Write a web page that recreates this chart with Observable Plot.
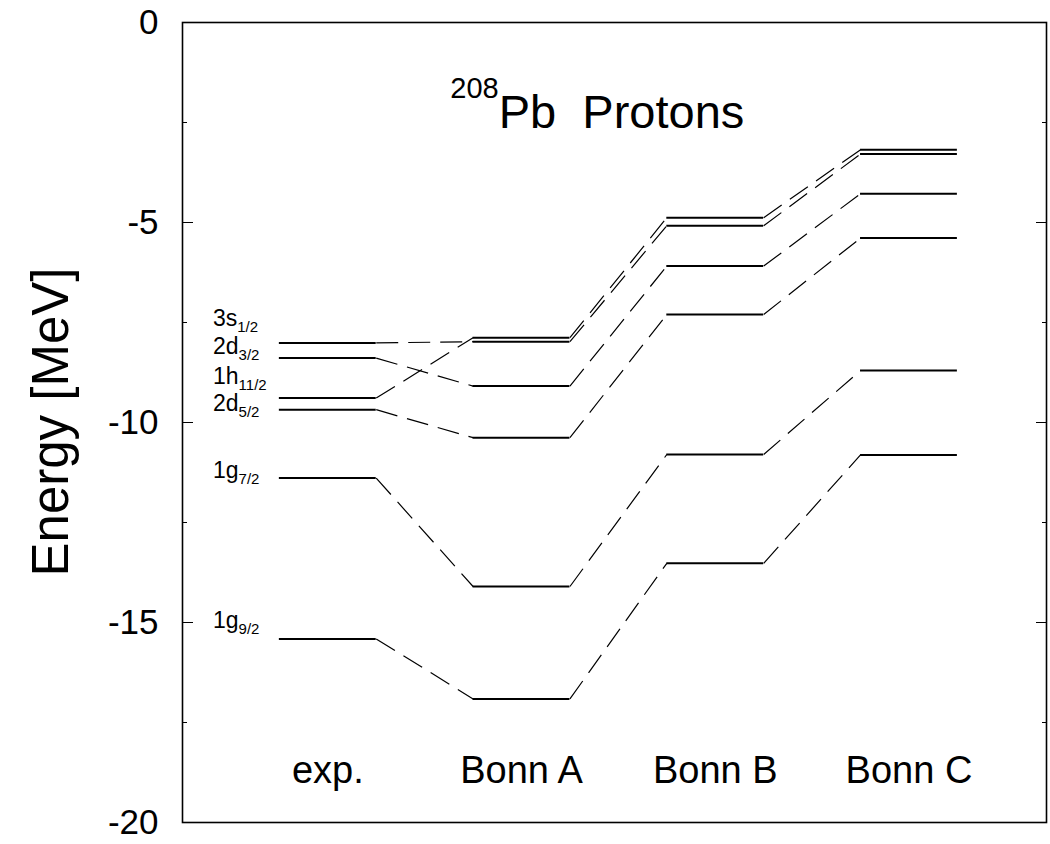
<!DOCTYPE html>
<html><head><meta charset="utf-8">
<script src="https://cdn.jsdelivr.net/npm/d3@7"></script>
<script src="https://cdn.jsdelivr.net/npm/@observablehq/plot@0.6"></script>
<style>body{margin:0;background:#fff} svg{font-family:"Liberation Sans",Arial,sans-serif}</style>
</head><body><div id="chart"></div>
<script>
// Columns (models) and single-particle states
const columns = ["exp.", "Bonn A", "Bonn B", "Bonn C"];
const stateMain = ["1g", "1g", "2d", "1h", "2d", "3s"];
const stateSub  = ["9/2", "7/2", "5/2", "11/2", "3/2", "1/2"];
// Energies [MeV] for states in the order above
const expE  = [-15.41, -11.39, -9.68, -9.39, -8.39, -8.01];
const bonnA = [-16.91, -14.10, -10.38, -7.88, -9.09, -7.98];
const bonnB = [-13.52, -10.80, -7.30, -4.88, -6.09, -5.08];
const bonnC = [-10.81, -8.70, -5.39, -3.18, -4.28, -3.29];
// Label anchors (energy) for the state names
const labelE = [-14.95, -11.2, -9.52, -8.85, -8.1, -7.4];
const labelX = 0.32;
const columnLabelE = -18.7;
const yTicks = [0, -5, -10, -15, -20];
const yMinor = [-2.5, -7.5, -12.5, -17.5];
const titleIso = "208";
const titleText = "Pb  Protons";
const titleX = 2.77, titleE = -2.65;
const yTitle = "Energy [MeV]";

const series = [expE, bonnA, bonnB, bonnC];
const levels = [];
series.forEach((s, c) => s.forEach((e, k) => levels.push({col: c, state: k, e})));
const links = [];
for (let c = 0; c < series.length - 1; c++) {
  series[c].forEach((e, k) => links.push({x1: 2 * c + 2, y1: e, x2: 2 * c + 3, y2: series[c + 1][k]}));
}
const blank = () => "";

const plot = Plot.plot({
  width: 1050, height: 844,
  marginLeft: 182, marginRight: 4, marginTop: 22, marginBottom: 22,
  x: {domain: [0, 8.92], axis: null},
  y: {domain: [-20, 0]},
  style: {fontFamily: "Liberation Sans, Arial, sans-serif", color: "black", background: "white"},
  marks: [
    Plot.axisY({ticks: yTicks, tickSize: 0, tickPadding: 24, fontSize: 35, label: null, tickFormat: d => String(d)}),
    Plot.axisY({ticks: yTicks, tickSize: -11, tickFormat: blank, label: null}),
    Plot.axisY({ticks: yMinor, tickSize: -5, tickFormat: blank, label: null}),
    Plot.axisY({anchor: "right", ticks: yTicks, tickSize: -11, tickFormat: blank, label: null}),
    Plot.axisY({anchor: "right", ticks: yMinor, tickSize: -5, tickFormat: blank, label: null}),
    Plot.link(links, {x1: "x1", y1: "y1", x2: "x2", y2: "y2", stroke: "black", strokeWidth: 1.2, strokeDasharray: "22,10"}),
    Plot.ruleY(levels, {y: "e", x1: d => 2 * d.col + 1, x2: d => 2 * d.col + 2, stroke: "black", strokeWidth: 2}),
    Plot.text(columns, {x: (d, i) => 2 * i + 1.5, y: () => columnLabelE, text: d => d, fontSize: 38, fill: "black"}),
    Plot.frame({stroke: "black", strokeWidth: 1.6})
  ]
});
document.getElementById("chart").appendChild(plot);

const sx = plot.scale("x"), sy = plot.scale("y");
const svg = d3.select(plot);
// state labels with subscripts
stateMain.forEach((m, k) => {
  const t = svg.append("text")
    .attr("x", sx.apply(labelX)).attr("y", sy.apply(labelE[k]))
    .attr("text-anchor", "start")
    .attr("dy", "0.35em").attr("font-size", 23).attr("fill", "black");
  t.append("tspan").text(m);
  t.append("tspan").attr("font-size", 15).attr("dy", 6).text(stateSub[k]);
});
// title with superscript mass number
const tt = svg.append("text")
  .attr("x", sx.apply(titleX)).attr("y", sy.apply(titleE))
  .attr("text-anchor", "start")
  .attr("fill", "black").style("white-space", "pre");
tt.append("tspan").attr("font-size", 29).attr("dy", -30).text(titleIso);
tt.append("tspan").attr("font-size", 47).attr("dy", 30).text(titleText);
// y axis title
svg.append("text")
  .attr("transform", `translate(50,${sy.apply(-10)}) rotate(-90)`)
  .attr("text-anchor", "middle").attr("dy", "0.35em")
  .attr("font-size", 51).attr("fill", "black").text(yTitle);
</script>
</body></html>
